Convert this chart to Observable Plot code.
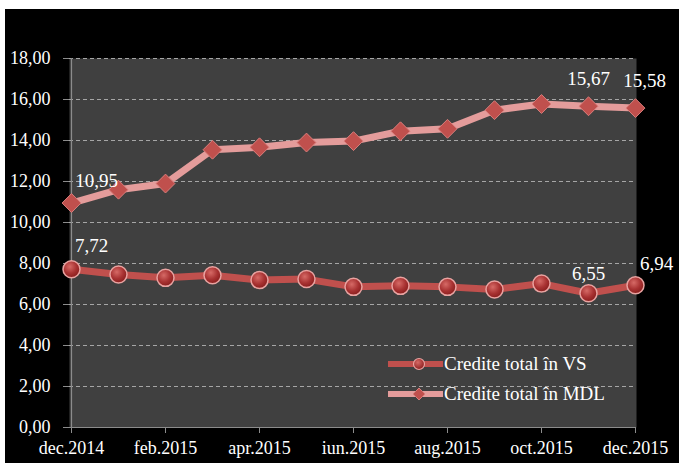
<!DOCTYPE html>
<html>
<head>
<meta charset="utf-8">
<script src="https://cdn.jsdelivr.net/npm/d3@7"></script>
<script src="https://cdn.jsdelivr.net/npm/@observablehq/plot@0.6"></script>
<style>
  html, body { margin: 0; padding: 0; background: #fff; width: 679px; height: 465px; overflow: hidden; }
  #wrap { position: absolute; left: 5px; top: 9px; width: 674px; height: 454px; background: #000; }
  #legend { position: absolute; left: 383px; top: 340px; font-family: "Liberation Serif", "Times New Roman", serif; font-size: 19px; color: #fff; }
  .item { display: flex; align-items: center; height: 30px; }
  .item svg { display: block; margin-right: 1px; }
</style>
</head>
<body>
<div id="wrap"><div id="chart"></div>
  <div id="legend">
    <div class="item"><svg width="55" height="16"><line x1="0" x2="55" y1="8" y2="8" stroke="#c0504d" stroke-width="6"/><circle cx="31" cy="8" r="5.5" fill="url(#lg)" stroke="#e8a3a1" stroke-width="1.2"/><defs><radialGradient id="lg" cx="40%" cy="35%" r="65%"><stop offset="0" stop-color="#d66a66"/><stop offset="1" stop-color="#8e1f1f"/></radialGradient></defs></svg><span>Credite total în VS</span></div>
    <div class="item"><svg width="55" height="16"><line x1="0" x2="55" y1="8" y2="8" stroke="#e49c9b" stroke-width="6"/><path d="M31,2 L37,8 L31,14 L25,8 Z" fill="#c0504d" stroke="#d47c7a" stroke-width="1"/></svg><span>Credite total în MDL</span></div>
  </div>
</div>
<script>
const months = ["dec.2014","ian.2015","feb.2015","mar.2015","apr.2015","mai.2015","iun.2015","iul.2015","aug.2015","sep.2015","oct.2015","nov.2015","dec.2015"];
const xTickLabels = ["dec.2014","feb.2015","apr.2015","iun.2015","aug.2015","oct.2015","dec.2015"];
const yTicks = [0,2,4,6,8,10,12,14,16,18];
const vsValues  = [7.72, 7.46, 7.30, 7.43, 7.19, 7.24, 6.86, 6.91, 6.86, 6.73, 7.02, 6.55, 6.94];
const mdlValues = [10.95, 11.60, 11.90, 13.55, 13.67, 13.90, 13.97, 14.45, 14.57, 15.48, 15.78, 15.67, 15.58];

const vs = months.map((m, i) => ({month: m, value: vsValues[i], i}));
const mdl = months.map((m, i) => ({month: m, value: mdlValues[i], i}));
const fmt = d => d.toFixed(2).replace(".", ",");
const last = months.length - 1;
const serif = '"Liberation Serif", "Times New Roman", serif';

const defs = () => {
  const g = d3.create("svg:defs");
  const rg = g.append("radialGradient").attr("id", "dotg").attr("cx", "40%").attr("cy", "35%").attr("r", "65%");
  rg.append("stop").attr("offset", "0").attr("stop-color", "#d66a66");
  rg.append("stop").attr("offset", "0.6").attr("stop-color", "#a83232");
  rg.append("stop").attr("offset", "1").attr("stop-color", "#8a1e1e");
  return g.node();
};

const labelStyle = {fill: "#fff", fontSize: 19, fontFamily: serif, text: d => fmt(d.value)};

const chart = Plot.plot({
  width: 674,
  height: 454,
  marginLeft: 64,
  marginRight: 43,
  marginTop: 49,
  marginBottom: 36,
  style: {background: "#000", fontFamily: serif, fontSize: "18px", color: "#fff"},
  x: {type: "point", domain: months, padding: 0, label: null},
  y: {domain: [0, 18], label: null},
  marks: [
    defs,
    Plot.frame({fill: "#404040", stroke: null}),
    Plot.ruleY(yTicks.filter(d => d > 0), {stroke: "#a6a6a6", strokeDasharray: "4,3", strokeWidth: 1}),
    Plot.ruleY([0], {stroke: "#8c8c8c", strokeWidth: 1.2}),
    Plot.ruleX([months[0]], {stroke: "#8c8c8c", strokeWidth: 1.2}),
    Plot.axisY({ticks: yTicks, tickSize: 6, text: null, stroke: "#8c8c8c", label: null}),
    Plot.axisY({ticks: yTicks, tickSize: 0, tickPadding: 19, tickFormat: fmt, fill: "#fff", fontSize: 18, fontFamily: serif, label: null}),
    Plot.axisX({ticks: xTickLabels, tickSize: 6, text: null, stroke: "#8c8c8c", label: null}),
    Plot.axisX({ticks: xTickLabels, tickSize: 0, tickPadding: 14, fill: "#fff", fontSize: 18, fontFamily: serif, label: null}),
    Plot.line(mdl, {x: "month", y: "value", stroke: "#e49c9b", strokeWidth: 7, strokeLinejoin: "round"}),
    Plot.line(vs, {x: "month", y: "value", stroke: "#c0504d", strokeWidth: 7, strokeLinejoin: "round"}),
    Plot.dot(mdl, {x: "month", y: "value", symbol: "diamond2", r: 8.5, fill: "#c0504d", stroke: "#d97e7c", strokeWidth: 1}),
    Plot.dot(vs, {x: "month", y: "value", r: 8.5, fill: "url(#dotg)", stroke: "#e8a3a1", strokeWidth: 1.5}),
    Plot.text(mdl, {...labelStyle, x: "month", y: "value", filter: d => d.i === 0, dx: 25, dy: -22}),
    Plot.text(mdl, {...labelStyle, x: "month", y: "value", filter: d => d.i === last - 1, dx: 0, dy: -27}),
    Plot.text(mdl, {...labelStyle, x: "month", y: "value", filter: d => d.i === last, dx: 9, dy: -27}),
    Plot.text(vs, {...labelStyle, x: "month", y: "value", filter: d => d.i === 0, dx: 20, dy: -23}),
    Plot.text(vs, {...labelStyle, x: "month", y: "value", filter: d => d.i === last - 1, dx: 0, dy: -19}),
    Plot.text(vs, {...labelStyle, x: "month", y: "value", filter: d => d.i === last, dx: 21, dy: -21})
  ]
});
document.getElementById("chart").append(chart);
</script>
</body>
</html>
